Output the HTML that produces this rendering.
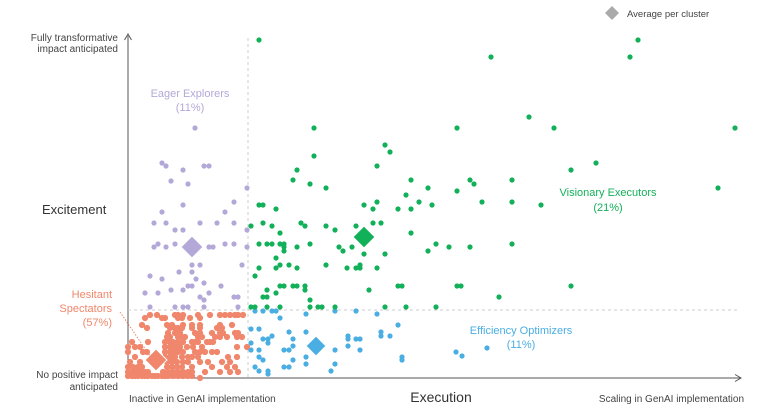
<!DOCTYPE html>
<html><head><meta charset="utf-8"><style>
body{margin:0;background:#fff;width:768px;height:411px;overflow:hidden}
svg{font-family:"Liberation Sans",sans-serif}
</style></head><body>
<svg id="chart" width="768" height="411" viewBox="0 0 768 411">
<g id="axes">
<line x1="128" y1="378" x2="128" y2="36" stroke="#555" stroke-width="1"/>
<path d="M124.5,40 L128,34 L131.5,40" fill="none" stroke="#555"/>
<line x1="128" y1="378" x2="740" y2="378" stroke="#555" stroke-width="1"/>
<path d="M735,374.5 L741,378 L735,381.5" fill="none" stroke="#555"/>
<line x1="248" y1="38" x2="248" y2="378" stroke="#ccc" stroke-dasharray="3,3"/>
<line x1="128" y1="310" x2="740" y2="310" stroke="#ccc" stroke-dasharray="3,3"/>
</g>
<g id="points"></g>
<g id="labels" font-size="10" fill="#444">
<text x="118" y="41" text-anchor="end">Fully transformative</text>
<text x="118" y="52" text-anchor="end">impact anticipated</text>
<text x="42" y="214" font-size="13" fill="#333">Excitement</text>
<text x="118" y="378" text-anchor="end">No positive impact</text>
<text x="118" y="390" text-anchor="end">anticipated</text>
<text x="129" y="402">Inactive in GenAI implementation</text>
<text x="441" y="402" font-size="14" text-anchor="middle" fill="#333">Execution</text>
<text x="744" y="402" text-anchor="end">Scaling in GenAI implementation</text>
<path d="M612,6 L619,13 L612,20 L605,13 Z" fill="#aaa"/>
<text x="627" y="17" font-size="9.5">Average per cluster</text>
<g font-size="11">
<text x="190" y="97" text-anchor="middle" fill="#b3a8d8">Eager Explorers</text>
<text x="190" y="111" text-anchor="middle" fill="#b3a8d8">(11%)</text>
<text x="608" y="196" text-anchor="middle" fill="#13b05a">Visionary Executors</text>
<text x="608" y="211" text-anchor="middle" fill="#13b05a">(21%)</text>
<text x="521" y="334" text-anchor="middle" fill="#4aaee3">Efficiency Optimizers</text>
<text x="521" y="348" text-anchor="middle" fill="#4aaee3">(11%)</text>
<text x="112" y="298" text-anchor="end" fill="#f0866b">Hesitant</text>
<text x="112" y="312" text-anchor="end" fill="#f0866b">Spectators</text>
<text x="112" y="326" text-anchor="end" fill="#f0866b">(57%)</text>
</g>
<line x1="120" y1="312" x2="150" y2="356" stroke="#f0866b" stroke-dasharray="1.5,1.5"/>
</g>
</svg>
<script>
const greenPts=[[131,338],[363,321],[502,321],[510,338],[401,261],[186,250],[329,250],[426,250],[607,250],[257,233],[262,226],[186,222],[249,212],[443,208],[468,215],[169,208],[165,198],[182,194],[198,190],[283,198],[300,190],[342,198],[346,194],[384,198],[590,190],[278,183],[329,187],[131,173],[135,173],[148,169],[236,173],[249,176],[245,169],[270,169],[283,169],[291,176],[304,173],[354,176],[384,176],[413,173],[123,152],[135,155],[144,152],[152,145],[173,155],[177,152],[198,152],[207,148],[228,152],[245,155],[253,155],[283,145],[131,134],[139,134],[144,134],[152,134],[156,134],[156,131],[156,127],[169,131],[182,134],[211,131],[215,127],[224,131],[236,124],[257,124],[300,127],[308,134],[321,131],[342,131],[384,134],[148,120],[131,110],[148,110],[152,113],[161,113],[169,110],[198,113],[219,110],[228,110],[232,110],[232,113],[249,110],[127,102],[139,88],[135,81],[139,81],[148,85],[152,92],[156,92],[165,92],[169,92],[177,92],[177,88],[182,78],[241,88],[270,92],[274,92],[329,92],[333,92],[371,81],[443,92],[123,71],[127,71],[139,71],[152,71],[182,71],[190,71],[194,71],[207,71],[257,71],[278,71],[308,71]];
const purplePts=[[67,250],[34,215],[38,212],[55,208],[43,197],[60,194],[76,212],[81,212],[119,190],[55,173],[106,176],[34,166],[97,166],[26,155],[38,155],[72,155],[89,155],[106,155],[119,148],[47,148],[55,148],[26,131],[30,134],[38,131],[47,134],[81,131],[85,131],[97,134],[106,134],[119,131],[64,113],[72,113],[114,113],[22,102],[34,99],[51,106],[64,106],[68,99],[76,95],[60,92],[64,92],[43,88],[55,88],[93,92],[17,85],[30,85],[72,81],[81,85],[106,81],[110,81],[76,78],[22,71],[47,71],[55,71],[60,71],[76,71],[110,71]];
const bluePts=[[127,67],[135,67],[144,67],[148,67],[152,60],[178,64],[207,67],[228,67],[249,64],[270,53],[123,49],[131,49],[144,42],[135,39],[140,39],[140,35],[161,46],[165,39],[178,46],[123,35],[123,28],[131,28],[156,28],[161,28],[165,32],[207,28],[220,42],[220,39],[220,32],[228,39],[232,39],[232,28],[253,46],[253,42],[262,42],[131,21],[135,18],[127,11],[131,7],[140,7],[140,4],[156,11],[161,11],[165,18],[178,21],[178,14],[203,7],[207,14],[274,21],[274,18],[328,26],[334,22],[359,30]];
const orangeRowY=[63,60,53,50,45,41,36,31,26,21,16,11,6,2,0];
const orangeRowX=[[22,29,47,50,55,70,82,92,97,102,107,110,115],[17,34,37,50,54,62,72],[14,39,44,55,64,72,92,104],[19,42,47,50,54,64,72,89,94],[40,47,52,67,72,84,92,95,107,110],[39,42,50,54,57,70,74,87,92,99,109,114],[4,20,37,42,45,50,55,64,67,70,79,82,85],[0,7,12,37,42,47,52,59,65,74,109,119],[0,15,19,37,42,45,50,55,67,72,77,84,89],[7,37,42,47,54,60,64,70,100,109],[2,12,39,44,49,55,60,72,80,94,102],[0,5,10,14,39,44,49,54,64,84,99,107],[0,4,7,10,14,17,20,35,40,45,50,55,60,64,77,92,102,110],[0,4,7,10,14,17,20,24,27,30,34,37,40,45,50,55,60,64],[72]];
const clusterNames=["hesitant-spectators","eager-explorers","efficiency-optimizers","visionary-executors"];
const centroidX=[28,64,188,236];
const centroidY=[18,131,32,141];

const xs=v=>128+v*(612/612);
const ys=v=>378-v*(340/340);
const NS="http://www.w3.org/2000/svg";
const g=document.getElementById('points');
function dot(x,y,r,fill,name){
  const c=document.createElementNS(NS,'circle');
  c.setAttribute('cx',xs(x));c.setAttribute('cy',ys(y));c.setAttribute('r',r);c.setAttribute('fill',fill);
  
  
  g.appendChild(c);
}
const orangePts=[];
orangeRowY.forEach((y,i)=>orangeRowX[i].forEach(x=>orangePts.push([x,y])));
orangePts.forEach(p=>dot(p[0],p[1],3.1,'#f0866b','hesitant-point'));
purplePts.forEach(p=>dot(p[0],p[1],2.6,'#b3a8d8','explorer-point'));
bluePts.forEach(p=>dot(p[0],p[1],2.6,'#4aaee3','optimizer-point'));
greenPts.forEach(p=>dot(p[0],p[1],2.6,'#13b05a','executor-point'));
const cCol=['#f0866b','#b3a8d8','#4aaee3','#13b05a'];
const cR=[11,11,10,11];
clusterNames.forEach((n,i)=>{
  const cx=xs(centroidX[i]),cy=ys(centroidY[i]),r=cR[i];
  const d=document.createElementNS(NS,'path');
  d.setAttribute('d',`M${cx},${cy-r} L${cx+r},${cy} L${cx},${cy+r} L${cx-r},${cy} Z`);
  d.setAttribute('fill',cCol[i]);
  d.setAttribute('stroke','#fff');d.setAttribute('stroke-width','1');
  
  
  g.appendChild(d);
});
</script>
</body></html>
